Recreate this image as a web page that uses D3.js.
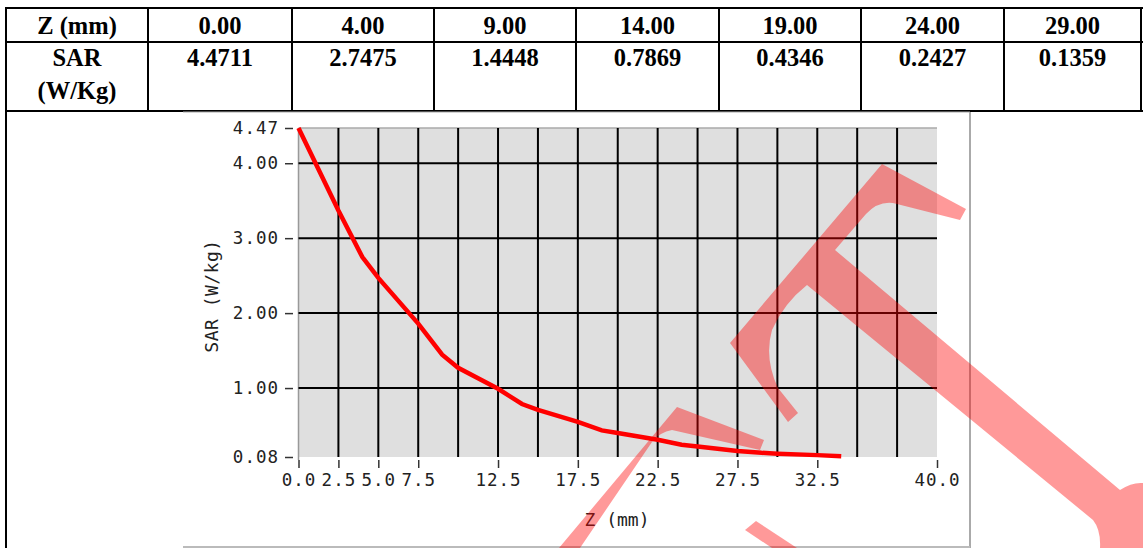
<!DOCTYPE html>
<html>
<head>
<meta charset="utf-8" />
<title>SAR vs Z</title>
<script src="https://d3js.org/d3.v7.min.js"></script>
<style>
  body { margin: 0; background: #fff; }
  svg { display: block; }
</style>
</head>
<body>
<svg></svg>
<script>
// table values
const tableZ = [0, 4, 9, 14, 19, 24, 29];
const tableSAR = [4.4711, 2.7475, 1.4448, 0.7869, 0.4346, 0.2427, 0.1359];

// curve
const curveZ = [0, 2.5, 4, 5, 7.5, 9, 10, 12.5, 14, 15, 17.5, 19, 20, 22.5, 24, 25, 27.5, 29, 30, 32.5, 34];
const curveSAR = [4.4711, 3.37, 2.7475, 2.47, 1.86, 1.4448, 1.27, 0.99, 0.7869, 0.71, 0.55, 0.4346, 0.40, 0.31, 0.2427, 0.22, 0.16, 0.1359, 0.125, 0.105, 0.09];

// axis ticks
const yTicks = [0.08, 1, 2, 3, 4, 4.47];
const xTicks = [0, 2.5, 5, 7.5, 12.5, 17.5, 22.5, 27.5, 32.5, 40];
const xGrid = d3.range(2.5, 40, 2.5);
const yGrid = [1, 2, 3, 4];

const W = 1143, H = 548;
const svg = d3.select("svg").attr("width", W).attr("height", H);

// ---------- table ----------
const colX = [6, 148, 292, 434, 576, 719, 861, 1004, 1141];
const rowY = [8, 42, 111];
const tbl = svg.append("g").attr("stroke", "#000").attr("stroke-width", 2);

rowY.forEach(y => tbl.append("line").attr("x1", colX[0] - 1).attr("x2", 1143).attr("y1", y).attr("y2", y));
colX.forEach((x, i) => {
  tbl.append("line").attr("x1", x).attr("x2", x).attr("y1", rowY[0]).attr("y2", i == 0 ? H : rowY[2]);
});

const tfont = "'Liberation Serif', 'Times New Roman', serif";
const header = ["Z (mm)"].concat(tableZ.map(d => d.toFixed(2)));
svg.selectAll(".hdr").data(header).enter().append("text")
  .attr("x", (d, i) => (colX[i] + colX[i + 1]) / 2)
  .attr("y", 34)
  .attr("text-anchor", "middle")
  .attr("font-family", tfont).attr("font-weight", "bold").attr("font-size", 24.5)
  .text(d => d);

const row2 = ["SAR"].concat(tableSAR.map(d => d.toFixed(4)));
svg.selectAll(".r2").data(row2).enter().append("text")
  .attr("x", (d, i) => (colX[i] + colX[i + 1]) / 2)
  .attr("y", 66)
  .attr("text-anchor", "middle")
  .attr("font-family", tfont).attr("font-weight", "bold").attr("font-size", 24.5)
  .text(d => d);
svg.append("text")
  .attr("x", (colX[0] + colX[1]) / 2).attr("y", 99)
  .attr("text-anchor", "middle")
  .attr("font-family", tfont).attr("font-weight", "bold").attr("font-size", 24.5)
  .text("(W/Kg)");

// ---------- chart image ----------
svg.append("rect").attr("x", 183).attr("y", 112.5).attr("width", 787).attr("height", 434.5)
  .attr("fill", "#fff");
svg.append("line").attr("x1", 183).attr("x2", 970).attr("y1", 112).attr("y2", 112)
  .attr("stroke", "#aaa").attr("stroke-width", 1);
svg.append("line").attr("x1", 970).attr("x2", 970).attr("y1", 112).attr("y2", 548)
  .attr("stroke", "#aaa").attr("stroke-width", 2);
svg.append("line").attr("x1", 183).attr("x2", 970).attr("y1", 547).attr("y2", 547)
  .attr("stroke", "#bbb").attr("stroke-width", 2);

const plot = { left: 298.5, right: 937, top: 128, bottom: 457 };
const x = d3.scaleLinear().domain([0, 40]).range([plot.left, plot.right]);
const y = d3.scaleLinear().domain([0.08, 4.47]).range([plot.bottom, plot.top]);

svg.append("rect")
  .attr("x", plot.left).attr("y", plot.top)
  .attr("width", plot.right - plot.left).attr("height", plot.bottom - plot.top)
  .attr("fill", "#dfdfdf");
svg.append("line").attr("x1", plot.left).attr("x2", plot.right).attr("y1", plot.top).attr("y2", plot.top)
  .attr("stroke", "#aaa").attr("stroke-width", 1.5);
svg.append("line").attr("x1", plot.left).attr("x2", plot.left).attr("y1", plot.top).attr("y2", plot.bottom + 3)
  .attr("stroke", "#999").attr("stroke-width", 1.5);

// grid
svg.append("g").selectAll("line").data(xGrid).enter().append("line")
  .attr("x1", d => x(d)).attr("x2", d => x(d))
  .attr("y1", plot.top).attr("y2", plot.bottom)
  .attr("stroke", "#000").attr("stroke-width", 2);
svg.append("g").selectAll("line").data(yGrid).enter().append("line")
  .attr("x1", plot.left).attr("x2", plot.right)
  .attr("y1", d => y(d)).attr("y2", d => y(d))
  .attr("stroke", "#000").attr("stroke-width", 2);

const mono = "'DejaVu Sans Mono', monospace";

// y axis
const yAxis = svg.append("g").attr("transform", "translate(293,0)")
  .call(d3.axisLeft(y).tickValues(yTicks).tickSize(8).tickPadding(6).tickFormat(d3.format(".2f")));
yAxis.select(".domain").remove();
yAxis.selectAll(".tick line").attr("stroke", "#333").attr("stroke-width", 1.5);
yAxis.selectAll(".tick text").attr("font-family", mono).attr("font-size", 17.5)
  .attr("letter-spacing", 1).attr("fill", "#222");

// x axis
const xAxis = svg.append("g").attr("transform", `translate(0,${plot.bottom + 3})`)
  .call(d3.axisBottom(x).tickValues(xTicks).tickSize(8).tickPadding(6).tickFormat(d3.format(".1f")));
xAxis.select(".domain").remove();
xAxis.selectAll(".tick line").attr("stroke", "#333").attr("stroke-width", 1.5);
xAxis.selectAll(".tick text").attr("font-family", mono).attr("font-size", 17.5)
  .attr("letter-spacing", 1).attr("fill", "#222");

// axis titles
svg.append("text")
  .attr("transform", "translate(218,296) rotate(-90)")
  .attr("text-anchor", "middle")
  .attr("font-family", mono).attr("font-size", 18).attr("letter-spacing", 0.5).attr("fill", "#222")
  .text("SAR (W/kg)");
svg.append("text")
  .attr("x", 617).attr("y", 526)
  .attr("text-anchor", "middle")
  .attr("font-family", mono).attr("font-size", 18).attr("fill", "#222")
  .text("Z  (mm)");

// SAR curve
const line = d3.line().x(d => x(d[0])).y(d => y(d[1]));
svg.append("path")
  .datum(d3.zip(curveZ, curveSAR))
  .attr("d", line)
  .attr("fill", "none")
  .attr("stroke", "#ff0000")
  .attr("stroke-width", 4.5);

// watermark overlay
const wm = [
  "M882,164 L966,209 L960,220 L893,203 Q878,201 866,214 L835,250 L1120,490 Q1132,482 1143,483 L1143,548 L1100,548 Q1101,530 1093,520 L807,285 Q784,303 772,330 Q764,358 778,388 L798,413 L788,422 L730,343 Z",
  "M559,548 L677,407 L764,440 L760,450 L672,430 Q660,432 652,442 L580,548 Z",
  "M745,530 L756,521 L797,548 L772,548 Z"
];
svg.append("g").selectAll("path").data(wm).enter().append("path")
  .attr("d", d => d)
  .attr("fill", "rgba(255,0,0,0.4)");
</script>
</body>
</html>
